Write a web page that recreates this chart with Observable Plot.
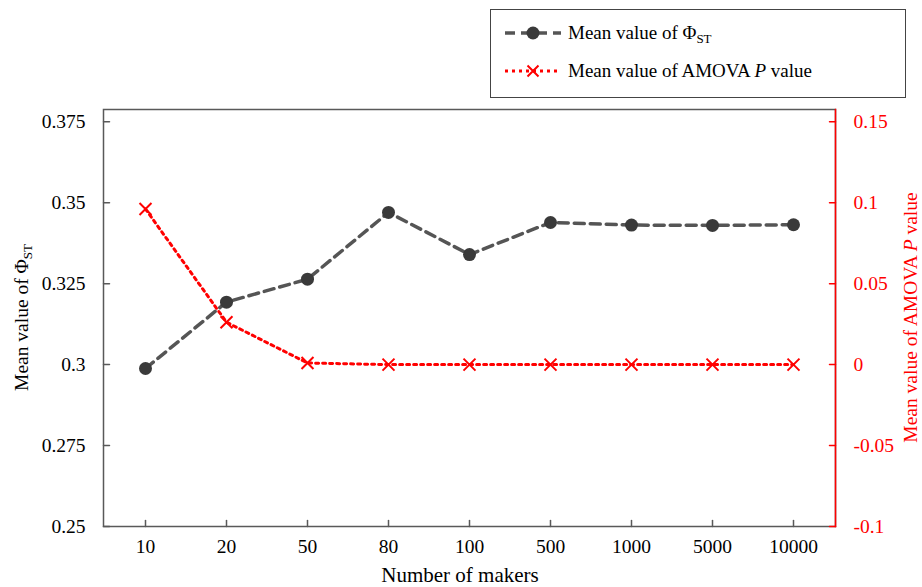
<!DOCTYPE html>
<html><head><meta charset="utf-8">
<script src="https://cdn.jsdelivr.net/npm/d3@7"></script>
<script src="https://cdn.jsdelivr.net/npm/@observablehq/plot@0.6"></script>
<style>
body{margin:0;background:#fff;font-family:"Liberation Serif","Times New Roman",serif}
#wrap{position:relative;width:922px;height:587px}
#legend{position:absolute;left:490px;top:9px;width:416px;height:89px;border:1.5px solid #444;box-sizing:border-box;background:#fff;font-size:19px;color:#000}
.row{position:absolute;left:0;display:flex;align-items:center;height:30px}
.row svg{display:block}
.row span{position:absolute;left:77px;white-space:nowrap}
sub{font-size:13px;vertical-align:-4px;line-height:0}
</style></head><body><div id="wrap"></div>
<script>
const markers = ["10","20","50","80","100","500","1000","5000","10000"];
const phiST = [0.2988,0.3193,0.3264,0.347,0.334,0.3439,0.3431,0.343,0.3432];
const amovaP = [0.0961,0.0262,0.001,0,0,0,0,0,0];
const leftTicks = [0.25,0.275,0.3,0.325,0.35,0.375];
const rightTicks = [-0.1,-0.05,0,0.05,0.1,0.15];

// right axis maps linearly onto left axis: -0.1 -> 0.25, 0.15 -> 0.375
const toLeft = p => 0.25 + (p + 0.1) / 2;
const rows = markers.map((m, i) => ({m, phi: phiST[i], p: amovaP[i], pl: toLeft(amovaP[i])}));
const rightMap = new Map(rightTicks.map(t => [+toLeft(t).toFixed(6), String(t)]));

const FS = 19.5;
const FONT = '"Liberation Serif","Times New Roman",serif';
const tickShape = {draw(ctx, l) { ctx.moveTo(0, 0); ctx.lineTo(0, -l); }};
const chart = Plot.plot({
  width: 922, height: 587,
  marginLeft: 103, marginRight: 87, marginTop: 109, marginBottom: 61,
  style: {fontFamily: FONT, fontSize: FS + "px", background: "#fff", color: "#000"},
  x: {type: "point", domain: markers, padding: 0.5},
  y: {domain: [0.25, 0.3788]},
  marks: [
    Plot.frame({stroke: "#595959", strokeWidth: 1.5}),
    Plot.axisY({ticks: leftTicks, tickSize: 0, tickPadding: 18, tickFormat: d => String(+d.toFixed(3)), label: null, fontSize: FS, fontFamily: FONT, fill: "#000"}),
    Plot.axisY({anchor: "right", ticks: rightTicks.map(toLeft), tickSize: 0, tickPadding: 18,
      tickFormat: d => rightMap.get(+d.toFixed(6)), label: null, fontSize: FS, fontFamily: FONT, fill: "red"}),
    Plot.axisX({tickSize: 0, tickPadding: 13, label: null, fontSize: FS, fontFamily: FONT, fill: "#000"}),
    // inward tick marks
    Plot.vector(leftTicks, {y: d => d, frameAnchor: "left", rotate: 90, length: 6, anchor: "start", shape: tickShape, stroke: "#595959", strokeWidth: 1.5}),
    Plot.vector(rightTicks.map(toLeft), {y: d => d, frameAnchor: "right", rotate: -90, length: 6, anchor: "start", shape: tickShape, stroke: "red", strokeWidth: 1.5}),
    Plot.vector(markers, {x: d => d, frameAnchor: "bottom", rotate: 0, length: 6, anchor: "start", shape: tickShape, stroke: "#595959", strokeWidth: 1.5}),
    Plot.frame({anchor: "right", stroke: "red", strokeWidth: 1.5}),
    Plot.line(rows, {x: "m", y: "phi", stroke: "#555", strokeWidth: 3.5, strokeDasharray: "10,6"}),
    Plot.dot(rows, {x: "m", y: "phi", r: 6.5, fill: "#3a3a3a", stroke: "none"}),
    Plot.line(rows, {x: "m", y: "pl", stroke: "red", strokeWidth: 3, strokeDasharray: "3,4"}),
    Plot.dot(rows, {x: "m", y: "pl", symbol: "times", r: 5.5, stroke: "red", strokeWidth: 2})
  ]
});
document.getElementById("wrap").appendChild(chart);

const svg = d3.select(chart);
const lt = svg.append("text").attr("transform", "translate(28,317.5) rotate(-90)")
  .attr("text-anchor", "middle").attr("font-size", FS).attr("font-family", FONT).attr("fill", "#000");
lt.append("tspan").text("Mean value of Φ");
lt.append("tspan").attr("font-size", 13).attr("dy", 4).text("ST");

const rt = svg.append("text").attr("transform", "translate(917,317.5) rotate(-90)")
  .attr("text-anchor", "middle").attr("font-size", FS).attr("font-family", FONT).attr("fill", "red");
rt.append("tspan").text("Mean value of AMOVA ");
rt.append("tspan").attr("font-style", "italic").text("P");
rt.append("tspan").text(" value");

svg.append("text").attr("x", 460).attr("y", 582).attr("text-anchor", "middle")
  .attr("font-size", 21).attr("font-family", FONT).attr("fill", "#000").text("Number of makers");

// legend
const legend = document.createElement("div");
legend.id = "legend";
legend.innerHTML = `
<div class="row" style="top:8px">
  <svg width="70" height="30"><line x1="14" y1="15" x2="70" y2="15" stroke="#555" stroke-width="3.5" stroke-dasharray="10,6"/><circle cx="42" cy="15" r="6.5" fill="#3a3a3a"/></svg>
  <span>Mean value of Φ<sub>ST</sub></span>
</div>
<div class="row" style="top:46px">
  <svg width="70" height="30"><line x1="14" y1="15" x2="70" y2="15" stroke="red" stroke-width="3" stroke-dasharray="3,4"/><path d="M36.5,9.5L47.5,20.5M47.5,9.5L36.5,20.5" stroke="red" stroke-width="2"/></svg>
  <span>Mean value of AMOVA <i>P</i> value</span>
</div>`;
document.getElementById("wrap").appendChild(legend);
</script>
</body></html>
